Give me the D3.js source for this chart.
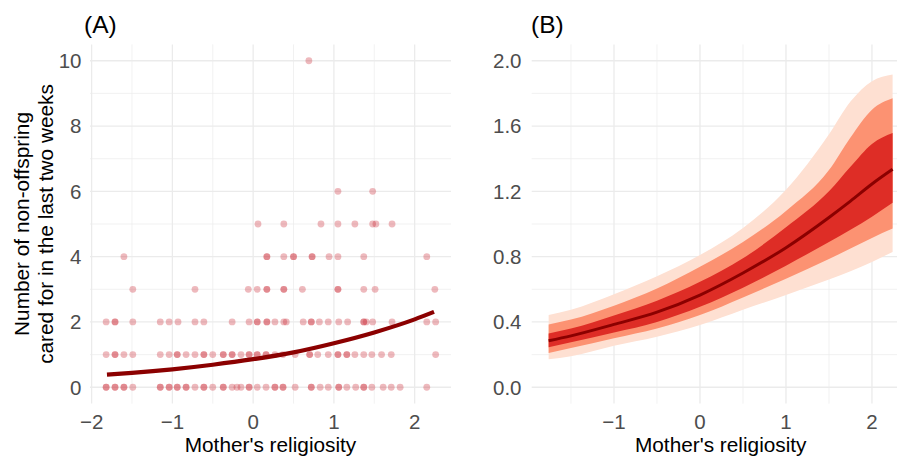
<!DOCTYPE html>
<html>
<head>
<meta charset="utf-8">
<script src="https://cdn.jsdelivr.net/npm/d3@7"></script>
<style>
  body { margin: 0; background: #fff; }
  svg { display: block; font-family: "Liberation Sans", Arial, Helvetica, sans-serif; }
</style>
</head>
<body>
<div id="chart"></div>
<script>
// (A) raw data: religiosity of mothers, grouped by number of non-offspring cared for
// (a value listed twice is where points overlap and look darker)
const count0 = [-1.82, -1.82, -1.71, -1.71, -1.60, -1.60, -1.49, -1.15, -1.15, -1.04, -1.04, -0.94, -0.94,
  -0.83, -0.83, -0.72, -0.61, -0.61, -0.50, -0.37, -0.37, -0.26, -0.20, -0.15, -0.05, -0.05, 0.05, 0.16,
  0.27, 0.27, 0.37, 0.37, 0.52, 0.72, 0.72, 0.83, 0.93, 1.06, 1.06, 1.16, 1.27, 1.37, 1.37, 1.47, 1.61,
  1.71, 1.82, 2.15];
const count1 = [-1.82, -1.71, -1.71, -1.60, -1.49, -1.15, -1.04, -0.94, -0.94, -0.83, -0.72, -0.61, -0.61,
  -0.50, -0.37, -0.37, -0.26, -0.26, -0.15, -0.05, -0.05, 0.05, 0.05, 0.16, 0.16, 0.27, 0.37, 0.52, 0.70,
  0.70, 0.80, 0.93, 1.05, 1.05, 1.16, 1.16, 1.26, 1.37, 1.47, 1.59, 1.71, 2.26];
const count2 = [-1.82, -1.71, -1.71, -1.49, -1.15, -1.04, -0.93, -0.72, -0.61, -0.26, -0.05, 0.05, 0.05,
  0.17, 0.17, 0.27, 0.38, 0.41, 0.62, 0.72, 0.72, 0.82, 0.93, 1.06, 1.17, 1.37, 1.37, 1.40, 1.48, 1.72,
  2.15, 2.26];
const count3 = [-1.49, -0.72, -0.06, 0.05, 0.17, 0.17, 0.38, 0.38, 0.61, 1.05, 1.05, 1.37, 1.51, 2.25];
const count4 = [-1.60, 0.17, 0.17, 0.38, 0.50, 0.50, 0.73, 0.73, 0.94, 1.05, 1.37, 2.15];
const count5 = [0.06, 0.38, 0.84, 1.05, 1.26, 1.48, 1.52, 1.72];
const count6 = [1.05, 1.48];
const count10 = [0.69];

// (A) fitted curve
const fitX = [-1.81, -1.5, -1, -0.5, 0, 0.5, 1, 1.5, 2, 2.24];
const fitY = [0.385, 0.44, 0.55, 0.69, 0.86, 1.07, 1.35, 1.68, 2.08, 2.31];

// (B) predicted values with 50/80/95% intervals
const predX = [-1.76, -1.5, -1, -0.5, 0, 0.5, 1, 1.5, 1.75, 2, 2.24];
const mean  = [0.285, 0.315, 0.385, 0.46, 0.565, 0.70, 0.855, 1.04, 1.14, 1.245, 1.335];
const lo50  = [0.245, 0.275, 0.335, 0.40, 0.493, 0.61, 0.745, 0.89, 0.965, 1.045, 1.13];
const hi50  = [0.33, 0.36, 0.44, 0.53, 0.646, 0.79, 0.98, 1.20, 1.35, 1.49, 1.557];
const lo80  = [0.21, 0.24, 0.30, 0.36, 0.442, 0.55, 0.665, 0.785, 0.85, 0.915, 0.972];
const hi80  = [0.385, 0.415, 0.50, 0.605, 0.738, 0.89, 1.08, 1.33, 1.53, 1.70, 1.77];
const lo95  = [0.171, 0.19, 0.255, 0.31, 0.381, 0.475, 0.565, 0.66, 0.71, 0.768, 0.829];
const hi95  = [0.442, 0.475, 0.57, 0.68, 0.81, 0.975, 1.21, 1.55, 1.75, 1.875, 1.916];

const yTicksA = [0, 2, 4, 6, 8, 10];
const yTicksB = [0, 0.4, 0.8, 1.2, 1.6, 2.0];

const width = 897, height = 458;
const svg = d3.select("#chart").append("svg")
  .attr("width", width)
  .attr("height", height);

const gridColor = "#ebebeb";
const tickColor = "#4d4d4d";
const fmtMinus = d => d3.format("d")(d).replace("-", "\u2212");

function grid(g, x, y, xMajor, xMinor, yMajor, yMinor) {
  const [x0, x1] = x.range(), [y0, y1] = y.range();
  g.selectAll(".ymin").data(yMinor).join("line")
    .attr("x1", x0).attr("x2", x1).attr("y1", d => y(d)).attr("y2", d => y(d))
    .attr("stroke", gridColor).attr("stroke-width", 0.7);
  g.selectAll(".xmin").data(xMinor).join("line")
    .attr("y1", y0).attr("y2", y1).attr("x1", d => x(d)).attr("x2", d => x(d))
    .attr("stroke", gridColor).attr("stroke-width", 0.7);
  g.selectAll(".ymaj").data(yMajor).join("line")
    .attr("x1", x0).attr("x2", x1).attr("y1", d => y(d)).attr("y2", d => y(d))
    .attr("stroke", gridColor).attr("stroke-width", 1.3);
  g.selectAll(".xmaj").data(xMajor).join("line")
    .attr("y1", y0).attr("y2", y1).attr("x1", d => x(d)).attr("x2", d => x(d))
    .attr("stroke", gridColor).attr("stroke-width", 1.3);
}

function axisLabels(x, y, xTicks, yTicks, yFmt, yLabelX) {
  const [y0] = y.range();
  svg.append("g").selectAll("text").data(xTicks).join("text")
    .attr("x", d => x(d)).attr("y", y0 + 25.5)
    .attr("text-anchor", "middle")
    .attr("font-size", 20.5).attr("fill", tickColor)
    .text(fmtMinus);
  svg.append("g").selectAll("text").data(yTicks).join("text")
    .attr("x", yLabelX).attr("y", d => y(d))
    .attr("dy", "0.36em")
    .attr("text-anchor", "end")
    .attr("font-size", 20.5).attr("fill", tickColor)
    .text(yFmt);
  svg.append("text")
    .attr("x", (x.range()[0] + x.range()[1]) / 2).attr("y", 451.5)
    .attr("text-anchor", "middle").attr("font-size", 20.8).attr("fill", "#000")
    .text("Mother's religiosity");
}

// ---------- Panel A ----------
const xA = d3.scaleLinear().domain([-2.02, 2.45]).range([90, 451]);
const yA = d3.scaleLinear().domain([-0.5, 10.5]).range([403.6, 44.4]);

grid(svg.append("g"), xA, yA, [-2, -1, 0, 1, 2], [-1.5, -0.5, 0.5, 1.5],
  yTicksA, [1, 3, 5, 7, 9]);

const rows = [[0, count0], [1, count1], [2, count2], [3, count3], [4, count4],
  [5, count5], [6, count6], [10, count10]];
const points = rows.flatMap(([n, xs]) => xs.map(v => ({ x: v, y: n })));

svg.append("g").selectAll("circle").data(points).join("circle")
  .attr("cx", d => xA(d.x)).attr("cy", d => yA(d.y))
  .attr("r", 3.4)
  .attr("fill", "#cc2a36").attr("fill-opacity", 0.33);

svg.append("path")
  .datum(fitX.map((v, i) => [v, fitY[i]]))
  .attr("d", d3.line().x(d => xA(d[0])).y(d => yA(d[1])).curve(d3.curveMonotoneX))
  .attr("fill", "none").attr("stroke", "#8b0000").attr("stroke-width", 4.2);

axisLabels(xA, yA, [-2, -1, 0, 1, 2], yTicksA, d => d, 81.5);

svg.append("text")
  .attr("transform", `translate(29,${(403.6 + 44.4) / 2}) rotate(-90)`)
  .attr("text-anchor", "middle").attr("font-size", 20.8).attr("fill", "#000")
  .text("Number of non-offspring");
svg.append("text")
  .attr("transform", `translate(53,${(403.6 + 44.4) / 2}) rotate(-90)`)
  .attr("text-anchor", "middle").attr("font-size", 20.8).attr("fill", "#000")
  .text("cared for in the last two weeks");

svg.append("text").attr("x", 84).attr("y", 33).attr("font-size", 24.5).text("(A)");

// ---------- Panel B ----------
const xB = d3.scaleLinear().domain([-1.957, 2.44]).range([531.7, 909.8]);
const yB = d3.scaleLinear().domain([-0.1, 2.1]).range([403.6, 44.4]);

grid(svg.append("g"), xB, yB, [-1, 0, 1, 2], [-1.5, -0.5, 0.5, 1.5],
  yTicksB, [0.2, 0.6, 1.0, 1.4, 1.8]);

const area = (lo, hi) => d3.area()
  .x((d, i) => xB(predX[i]))
  .y0((d, i) => yB(lo[i]))
  .y1((d, i) => yB(hi[i]))
  .curve(d3.curveMonotoneX)(predX);

const bands = [[lo95, hi95, "#fee0d2"], [lo80, hi80, "#fc9272"], [lo50, hi50, "#de2d26"]];
svg.append("g").selectAll("path").data(bands).join("path")
  .attr("d", d => area(d[0], d[1]))
  .attr("fill", d => d[2]);

svg.append("path")
  .datum(predX.map((v, i) => [v, mean[i]]))
  .attr("d", d3.line().x(d => xB(d[0])).y(d => yB(d[1])).curve(d3.curveMonotoneX))
  .attr("fill", "none").attr("stroke", "#8b0000").attr("stroke-width", 3);

axisLabels(xB, yB, [-1, 0, 1, 2], yTicksB, d3.format(".1f"), 521.5);

svg.append("text").attr("x", 531).attr("y", 33).attr("font-size", 24.5).text("(B)");
</script>
</body>
</html>
